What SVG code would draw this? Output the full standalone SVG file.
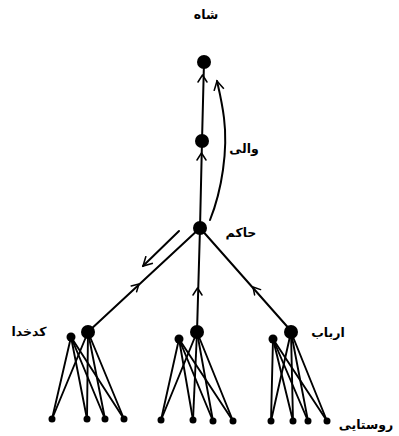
<svg xmlns="http://www.w3.org/2000/svg" width="399" height="436" viewBox="0 0 399 436">
  <style>
    .edge { stroke: #000; stroke-width: 2; fill: none; stroke-linecap: round; }
    .thin { stroke: #000; stroke-width: 1.9; fill: none; stroke-linecap: round; }
    .chev { stroke: #000; stroke-width: 1.5; fill: none; stroke-linecap: round; stroke-linejoin: round; }
    .dot { fill: #000; }
    .lbl { font-family: "DejaVu Sans", sans-serif; font-size: 12.5px; font-weight: bold; fill: #000; }
  </style>
  <defs>
    <marker id="openHead" viewBox="0 0 12 12" refX="10" refY="6" markerWidth="12" markerHeight="12" markerUnits="userSpaceOnUse" orient="auto">
      <path d="M1,1 L10,6 L1,11" stroke="#000" stroke-width="1.6" fill="none"/>
    </marker>
  </defs>
  <rect width="399" height="436" fill="#fff"/>

  <!-- connectors -->
  <g id="connectors">
    <!-- central spine -->
    <line class="edge" x1="200" y1="228" x2="202" y2="141"/>
    <line class="edge" x1="202" y1="141" x2="204" y2="62"/>
    <!-- branches to the three groups -->
    <line class="edge" x1="200" y1="228" x2="89" y2="331"/>
    <line class="edge" x1="200" y1="228" x2="197" y2="332"/>
    <line class="edge" x1="200" y1="228" x2="292" y2="332"/>
    <!-- upward chevrons along the edges -->
    <path class="chev" d="M198,82 L202.5,75 L207,82"/>
    <path class="chev" d="M197,160 L201.5,153 L206,160"/>
    <path class="chev" d="M131.2,285.9 L139,284 L136.6,291.7"/>
    <path class="chev" d="M193,295 L197.5,288 L202,295"/>
    <path class="chev" d="M260.6,289.6 L253,287 L254.6,294.9"/>
    <!-- curved arrow from حاکم up to شاه -->
    <path class="edge" d="M210,220 C222,190 228,150 224,118 C222,102 219,90 217,81" marker-end="url(#openHead)"/>
    <!-- downward arrow -->
    <line class="edge" x1="179" y1="231" x2="143" y2="266" marker-end="url(#openHead)"/>

    <!-- left cluster (کدخدا) -->
    <g id="cluster-left-edges">
      <line class="thin" x1="88" y1="332" x2="52" y2="419"/>
      <line class="thin" x1="88" y1="332" x2="87" y2="419"/>
      <line class="thin" x1="88" y1="332" x2="105" y2="419"/>
      <line class="thin" x1="88" y1="332" x2="124" y2="419"/>
      <line class="thin" x1="71" y1="337" x2="52" y2="419"/>
      <line class="thin" x1="71" y1="337" x2="87" y2="419"/>
      <line class="thin" x1="71" y1="337" x2="105" y2="419"/>
      <line class="thin" x1="71" y1="337" x2="124" y2="419"/>
    </g>
    <!-- middle cluster -->
    <g id="cluster-mid-edges">
      <line class="thin" x1="197" y1="332" x2="161" y2="420"/>
      <line class="thin" x1="197" y1="332" x2="193" y2="420"/>
      <line class="thin" x1="197" y1="332" x2="213" y2="421"/>
      <line class="thin" x1="197" y1="332" x2="233" y2="421"/>
      <line class="thin" x1="179" y1="339" x2="161" y2="420"/>
      <line class="thin" x1="179" y1="339" x2="193" y2="420"/>
      <line class="thin" x1="179" y1="339" x2="213" y2="421"/>
      <line class="thin" x1="179" y1="339" x2="233" y2="421"/>
    </g>
    <!-- right cluster (ارباب) -->
    <g id="cluster-right-edges">
      <line class="thin" x1="291" y1="332" x2="271" y2="421"/>
      <line class="thin" x1="291" y1="332" x2="293" y2="421"/>
      <line class="thin" x1="291" y1="332" x2="308" y2="421"/>
      <line class="thin" x1="291" y1="332" x2="327" y2="421"/>
      <line class="thin" x1="273" y1="339" x2="271" y2="421"/>
      <line class="thin" x1="273" y1="339" x2="293" y2="421"/>
      <line class="thin" x1="273" y1="339" x2="308" y2="421"/>
      <line class="thin" x1="273" y1="339" x2="327" y2="421"/>
    </g>
  </g>

  <!-- nodes -->
  <g id="shah">
    <circle class="dot" cx="204" cy="62" r="7"/>
    <text class="lbl" x="206" y="19" text-anchor="middle">شاه</text>
  </g>
  <g id="vali">
    <circle class="dot" cx="202" cy="141" r="7"/>
    <text class="lbl" x="244" y="153" text-anchor="middle">والی</text>
  </g>
  <g id="hakem">
    <circle class="dot" cx="200" cy="228" r="7"/>
    <text class="lbl" x="241" y="237" text-anchor="middle">حاکم</text>
  </g>
  <g id="kadkhoda">
    <circle class="dot" cx="88" cy="332" r="7"/>
    <circle class="dot" cx="71" cy="337" r="4.5"/>
    <text class="lbl" x="29" y="336" text-anchor="middle">کدخدا</text>
  </g>
  <g id="middle-group">
    <circle class="dot" cx="197" cy="332" r="7"/>
    <circle class="dot" cx="179" cy="339" r="4.5"/>
  </g>
  <g id="arbab">
    <circle class="dot" cx="291" cy="332" r="7"/>
    <circle class="dot" cx="273" cy="339" r="4.5"/>
    <text class="lbl" x="328" y="337" text-anchor="middle">ارباب</text>
  </g>
  <g id="villagers">
    <circle class="dot" cx="52" cy="419" r="3.5"/>
    <circle class="dot" cx="87" cy="419" r="3.5"/>
    <circle class="dot" cx="105" cy="419" r="3.5"/>
    <circle class="dot" cx="124" cy="419" r="3.5"/>
    <circle class="dot" cx="161" cy="420" r="3.5"/>
    <circle class="dot" cx="193" cy="420" r="3.5"/>
    <circle class="dot" cx="213" cy="421" r="3.5"/>
    <circle class="dot" cx="233" cy="421" r="3.5"/>
    <circle class="dot" cx="271" cy="421" r="3.5"/>
    <circle class="dot" cx="293" cy="421" r="3.5"/>
    <circle class="dot" cx="308" cy="421" r="3.5"/>
    <circle class="dot" cx="327" cy="421" r="3.5"/>
    <text class="lbl" x="366" y="429" text-anchor="middle">روستایی</text>
  </g>
</svg>
